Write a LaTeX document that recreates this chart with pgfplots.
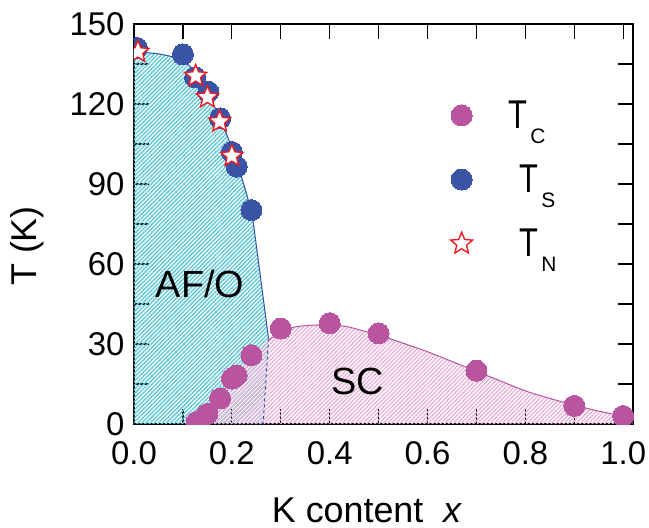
\documentclass[border=0pt]{standalone}
\usepackage{pgfplots}
\pgfplotsset{compat=1.18}
\usepackage{fontspec}
\setmainfont{Liberation Sans}
\usetikzlibrary{patterns.meta,plotmarks}
\definecolor{tcmag}{RGB}{184,84,160}
\definecolor{tsblue}{RGB}{59,83,164}
\definecolor{tnred}{RGB}{237,28,36}
\definecolor{afcyan}{RGB}{100,202,218}
\definecolor{scpink}{RGB}{232,176,214}
\definecolor{lineblue}{RGB}{50,80,170}
\pgfdeclareplotmark{ostar}{%
  \pgfpathmoveto{\pgfpointpolar{90}{\pgfplotmarksize}}%
  \pgfpathlineto{\pgfpointpolar{126}{0.45\pgfplotmarksize}}%
  \pgfpathlineto{\pgfpointpolar{162}{\pgfplotmarksize}}%
  \pgfpathlineto{\pgfpointpolar{198}{0.45\pgfplotmarksize}}%
  \pgfpathlineto{\pgfpointpolar{234}{\pgfplotmarksize}}%
  \pgfpathlineto{\pgfpointpolar{270}{0.45\pgfplotmarksize}}%
  \pgfpathlineto{\pgfpointpolar{306}{\pgfplotmarksize}}%
  \pgfpathlineto{\pgfpointpolar{342}{0.45\pgfplotmarksize}}%
  \pgfpathlineto{\pgfpointpolar{18}{\pgfplotmarksize}}%
  \pgfpathlineto{\pgfpointpolar{54}{0.45\pgfplotmarksize}}%
  \pgfpathclose
  \pgfusepathqfillstroke
}
\newcommand{\legT}{\scalebox{1}[1.3]{\fontsize{31}{31}\selectfont T}}
\newcommand{\legsub}[1]{\raisebox{-15bp}{\fontsize{21}{21}\selectfont #1}}
\begin{document}
\begin{tikzpicture}
\begin{axis}[
  name=ax,
  scale only axis, width=499bp, height=400bp,
  xmin=0, xmax=1.02, ymin=0, ymax=150,
  axis line style={line width=1.8bp},
  major tick style={black, solid, line width=1.3bp},
  minor tick style={black, solid, line width=1.3bp},
  major tick length=15bp, minor tick length=15bp,
  tick align=inside,
  xtick={0,0.2,0.4,0.6,0.8,1.0}, minor xtick={0.1,0.3,0.5,0.7,0.9},
  ytick={0,30,60,90,120,150}, minor ytick={15,45,75,105,135},
  /pgf/number format/assume math mode=true,
  xticklabel style={/pgf/number format/fixed, /pgf/number format/fixed zerofill, /pgf/number format/precision=1, yshift=-14bp},
  yticklabel style={xshift=-6bp},
  ticklabel style={font=\fontsize{33}{33}\selectfont},
  xlabel={K content\hspace{0.55em}\textit{x}},
  ylabel={T (K)},
  xlabel style={at={(axis description cs:0.467,-0.245)}, anchor=base, font=\fontsize{36}{36}\selectfont},
  ylabel style={at={(axis description cs:-0.2144,0.445)}, anchor=center, font=\fontsize{36}{36}\selectfont},
  clip marker paths=true,
  legend style={draw=none, fill=none, at={(axis cs:0.647,122)}, anchor=north west, row sep=31bp, inner sep=0pt, nodes={inner sep=2bp}},
  legend cell align=left,
]
% AF/O region
\addplot[draw=none, pattern={Lines[angle=45,distance=2.9bp,line width=1.45bp]}, pattern color=afcyan, forget plot]
 coordinates {(0,0) (0,139.5) (0.025,139.3) (0.05,138.8) (0.075,138) (0.1,136.5) (0.1125,134.5) (0.125,131.5) (0.1375,128) (0.15,124) (0.1625,119.8) (0.175,115) (0.1875,109.5) (0.2,103.5) (0.21,98) (0.22,92.5) (0.23,86.5) (0.24,79.5) (0.25,67) (0.26,53) (0.275,32) (0.264,0)} -- cycle;
% SC region
\addplot[draw=none, pattern={Lines[angle=45,distance=2.9bp,line width=1.3bp]}, pattern color=scpink, forget plot]
 coordinates {(0.125,0) (0.135,1.5) (0.15,4) (0.175,9.6) (0.2,16.5) (0.22,21) (0.24,25.5) (0.26,29) (0.275,31.5) (0.3,34.5) (0.326,36.3) (0.36,37) (0.4,37.2) (0.436,36.5) (0.463,35.2) (0.5,33.3) (0.531,31.5) (0.6,27.1) (0.668,22.1) (0.736,17.1) (0.805,12.1) (0.873,8.4) (0.941,5.2) (1.0,2.9) (1.02,2.3) (1.02,0)} -- cycle;
% AF boundary line
\addplot[lineblue, line width=1bp, smooth, tension=0.4, forget plot]
 coordinates {(0,139.5) (0.05,138.8) (0.1,136.5) (0.125,131.5) (0.15,124) (0.175,115) (0.2,103.5) (0.22,92.5) (0.24,79.5) (0.25,67) (0.26,53) (0.275,32)};
\addplot[lineblue, line width=1bp, dashed, forget plot] coordinates {(0.275,32) (0.264,0)};
% SC boundary line
\addplot[tcmag, line width=1bp, smooth, tension=0.4, forget plot]
 coordinates {(0.275,31.5) (0.3,34.5) (0.326,36.3) (0.36,37) (0.4,37.2) (0.436,36.5) (0.463,35.2) (0.5,33.3) (0.531,31.5) (0.6,27.1) (0.668,22.1) (0.736,17.1) (0.805,12.1) (0.873,8.4) (0.941,5.2) (1.0,2.9) (1.02,2.3)};
% Tc
\addplot[color=tcmag, only marks, mark=*, mark size=10.5bp, mark options={draw=tcmag, fill=tcmag, line width=0pt}]
 coordinates {(0.128,0.8) (0.15,3.8) (0.176,9.6) (0.2,17) (0.21,18.2) (0.24,25.8) (0.3,35.8) (0.4,37.8) (0.5,34) (0.7,20) (0.9,6.8) (1.0,3)};
\addlegendentry{\hspace{34bp}\legT\hspace{3bp}\legsub{C}}
% Ts
\addplot[color=tsblue, only marks, mark=*, mark size=10.5bp, mark options={draw=tsblue, fill=tsblue, line width=0pt}]
 coordinates {(0.006,141) (0.1,138.6) (0.125,130) (0.152,124.6) (0.176,114.6) (0.2,102) (0.21,96.5) (0.24,80.2)};
\addlegendentry{\hspace{45bp}\legT\hspace{3bp}\legsub{S}}
% Tn
\addplot[color=tnred, only marks, mark=ostar, mark size=11.5bp, mark options={draw=tnred, fill=white, line width=1.4bp}]
 coordinates {(0.008,139.5) (0.126,130.5) (0.15,122.5) (0.175,113.4) (0.2,100.5)};
\addlegendentry{\hspace{45bp}\legT\hspace{3bp}\legsub{N}}
\node[font=\fontsize{38}{38}\selectfont] at (axis cs:0.135,52.5) {AF/O};
\node[font=\fontsize{38}{38}\selectfont] at (axis cs:0.457,16.1) {SC};
\end{axis}
\pgfresetboundingbox
\path[use as bounding box] ([shift={(-134bp,-104bp)}]ax.south west) rectangle ([shift={(16bp,24bp)}]ax.north east);
\end{tikzpicture}
\end{document}
